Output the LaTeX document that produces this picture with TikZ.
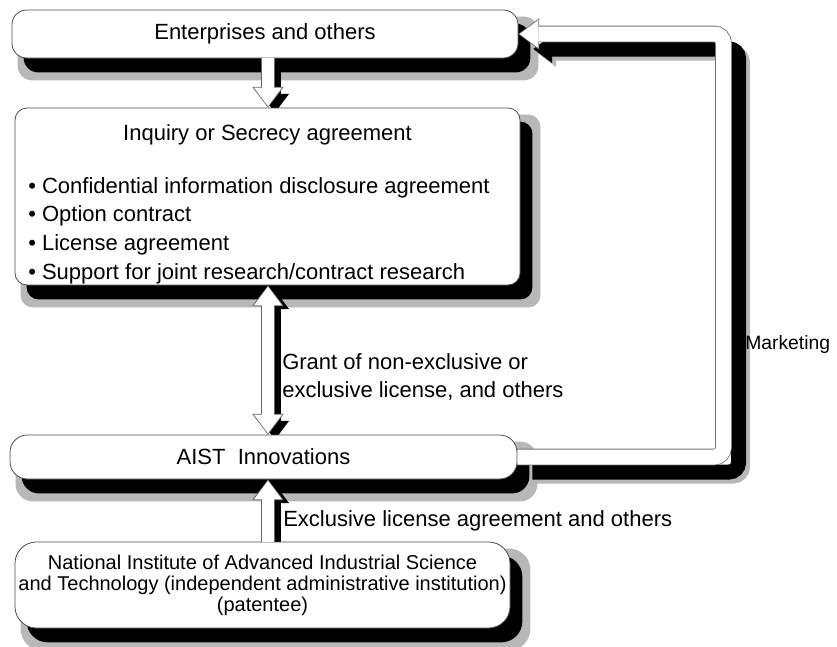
\documentclass[tikz,border=0pt]{standalone}
\usepackage{fontspec}
\setmainfont{Liberation Sans}
\usetikzlibrary{arrows.meta,calc}
\pgfdeclarelayer{paper}
\pgfdeclarelayer{shade}
\pgfsetlayers{paper,shade,main}
\tikzset{
  headS/.tip={Triangle[length=14pt 0, width=21pt 0, line width=0pt 0]},
  headL/.tip={Triangle[length=15.5pt 0, width=23.5pt 0, line width=0pt 0]},
}
\begin{document}
\begin{tikzpicture}[x=0.75pt,y=-0.75pt,
  box/.style={draw=black!70, line width=0.6pt, fill=white, rounded corners=#1, inner sep=0pt},
  txt/.style={font=\fontsize{16.5pt}{20pt}\selectfont, inner sep=0pt},
  small/.style={font=\fontsize{15pt}{15.75pt}\selectfont, inner sep=0pt, align=center},
  rim/.style={draw=black!60, line width=10.5pt},
  body/.style={draw=white, line width=9pt},
  dark/.style={draw=black, line width=9pt},
  band/.style={draw=white, line width=11.25pt, rounded corners=7pt},
  bandrim/.style={draw=black!55, line width=12.5pt, rounded corners=7pt},
  banddark/.style={draw=#1, line width=11.25pt, rounded corners=7pt},
]
\useasboundingbox (0,0) rectangle (837,646);
\begin{pgfonlayer}{paper}
  \fill[white] (0,0) rectangle (837,646);
\end{pgfonlayer}

% boxes
\node[box=11pt, txt, minimum width=379.5pt, minimum height=36pt] (ent) at (265,34) {Enterprises and others};
\node[box=9pt, minimum width=378.75pt, minimum height=132.75pt] (inq) at (267.5,196.5) {};
\node[box=13pt, txt, minimum width=380.25pt, minimum height=33pt] (aist) at (263.5,457) {AIST\ \ Innovations};
\node[box=16pt, small, minimum width=371.25pt, minimum height=64.5pt] (nia) at (262.5,585)
  {National Institute of Advanced Industrial Science\\and Technology (independent administrative institution)\\(patentee)};

% corner points of the marketing loop
\coordinate (turn) at (723.5,0);
\coordinate (c1) at (aist.east -| turn);
\coordinate (c2) at (ent.east -| turn);

% drop shadows
\begin{pgfonlayer}{shade}
  \foreach \n/\r in {ent/11pt, inq/9pt, aist/13pt, nia/16pt} {
    \fill[black!28, rounded corners=\r] ([shift={(6,7)}]\n.north west) rectangle ([shift={(20,22)}]\n.south east);
    \fill[black, rounded corners=\r] ([shift={(12,14)}]\n.north west) rectangle ([shift={(12,14)}]\n.south east);
  }
  \draw[banddark=black!28, -headS] ([shift={(19,19)}]aist.east) -- ([shift={(19,19)}]c1) -- ([shift={(19,19)}]c2) -- ([shift={(19,19)}]ent.east);
  \draw[banddark=black, -headS] ([shift={(15,15)}]aist.east) -- ([shift={(15,15)}]c1) -- ([shift={(15,15)}]c2) -- ([shift={(15,15)}]ent.east);
  \draw[dark, -headS] ([shift={(10,5)}]ent.south) -- ([shift={(7.5,5)}]inq.north);
  \draw[dark, headS-headS] ([shift={(7.5,5)}]inq.south) -- ([shift={(11.5,5)}]aist.north);
  \draw[dark, -headS] ([shift={(12.5,5)}]nia.north) -- ([shift={(11.5,5)}]aist.south);
\end{pgfonlayer}

% marketing loop
\draw[bandrim, -headL] (aist.east) -- (c1) -- (c2) -- (ent.east);
\draw[band, -headS, shorten >=1pt] (aist.east) -- (c1) -- (c2) -- (ent.east);

% block arrows
\draw[rim, -headL] ([shift={(3,0)}]ent.south) -- ([shift={(0.5,0)}]inq.north);
\draw[body, -headS, shorten >=1pt] ([shift={(3,0)}]ent.south) -- ([shift={(0.5,0)}]inq.north);
\draw[rim, headL-headL] ([shift={(0.5,0)}]inq.south) -- ([shift={(4.5,0)}]aist.north);
\draw[body, headS-headS, shorten >=1pt, shorten <=1pt] ([shift={(0.5,0)}]inq.south) -- ([shift={(4.5,0)}]aist.north);
\draw[rim, -headL] ([shift={(5.5,0)}]nia.north) -- ([shift={(4.5,0)}]aist.south);
\draw[body, -headS, shorten >=1pt] ([shift={(5.5,0)}]nia.north) -- ([shift={(4.5,0)}]aist.south);

% texts
\node[txt, anchor=base] (inqt) at (267.5,140) {Inquiry or Secrecy agreement};
\node[txt, anchor=base west] (b1) at (28,193) {• Confidential information disclosure agreement};
\node[txt, anchor=base west] (b2) at (28,221) {• Option contract};
\node[txt, anchor=base west] (b3) at (28,250) {• License agreement};
\node[txt, anchor=base west] (b4) at (28,279) {• Support for joint research/contract research};
\node[txt, anchor=base west] (g1) at (282,369) {Grant of non-exclusive or};
\node[txt, anchor=base west] (g2) at (282,397) {exclusive license, and others};
\node[txt, anchor=base west] (excl) at (283,526) {Exclusive license agreement and others};
\node[txt, anchor=base west, font=\fontsize{14.5pt}{17pt}\selectfont] (mkt) at (745,349) {Marketing};
\end{tikzpicture}
\end{document}
